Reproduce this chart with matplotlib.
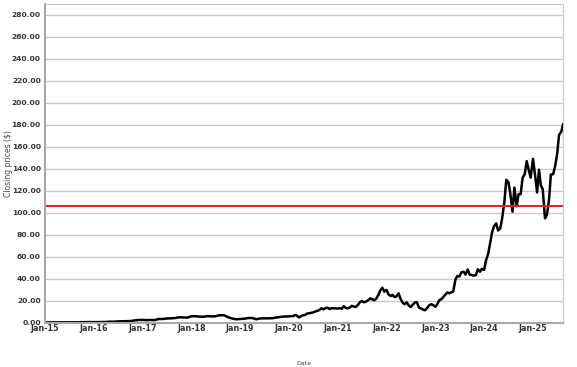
import numpy as np
import pandas as pd
import matplotlib
matplotlib.use('Agg')
import matplotlib.pyplot as plt
import matplotlib.dates as mdates

# monatliche Schlusskurse 2015-2019
monthly_close = [
    0.50, 0.54, 0.53, 0.55, 0.55, 0.50, 0.50, 0.55, 0.61, 0.70, 0.80, 0.82,
    0.73, 0.78, 0.89, 0.89, 1.17, 1.17, 1.43, 1.53, 1.71, 1.72, 2.30, 2.67,
    2.73, 2.53, 2.72, 2.60, 3.59, 3.61, 4.06, 4.21, 4.47, 5.17, 5.00, 4.84,
    6.14, 6.12, 5.79, 5.62, 6.31, 5.92, 6.12, 7.02, 7.03, 5.27, 4.09, 3.34,
    3.59, 3.85, 4.49, 4.52, 3.38, 4.11, 4.22, 4.19, 4.35, 5.03, 5.42, 5.88,
]
# halbmonatliche Schlusskurse 2020-2025
semi_close = [
    5.97, 6.20, 6.10, 7.20, 6.70, 5.00, 6.20, 7.00, 7.20, 8.50, 8.80, 9.20,
    9.60, 10.30, 11.00, 11.80, 13.30, 12.30, 13.50, 13.90, 12.60, 13.50, 13.30, 13.20,
    13.10, 13.40, 13.00, 15.20, 13.70, 13.30, 14.00, 15.50, 15.00, 14.50, 16.50, 18.80,
    20.00, 18.70, 19.50, 20.50, 22.40, 21.50, 20.60, 22.00, 25.50, 29.50, 32.00, 28.50,
    30.00, 26.00, 24.50, 25.50, 23.50, 24.00, 27.00, 22.00, 18.50, 17.00, 18.70, 16.00,
    14.50, 16.50, 18.50, 18.90, 14.00, 13.30, 12.20, 11.50, 13.50, 16.00, 17.00, 16.30,
    14.60, 17.00, 20.90, 21.50, 23.50, 25.50, 27.80, 27.00, 27.80, 28.50, 39.70, 42.60,
    42.30, 46.00, 46.50, 44.00, 48.50, 43.90, 43.50, 43.00, 43.50, 48.80, 46.50, 49.00,
    48.20, 56.50, 63.00, 72.50, 82.20, 87.80, 90.40, 84.00, 85.80, 94.80, 110.00, 130.00,
    128.00, 118.00, 101.00, 122.90, 106.00, 117.00, 117.00, 131.60, 135.40, 147.00, 138.60, 132.00,
    149.00, 136.00, 118.50, 139.20, 124.90, 121.70, 95.00, 98.00, 111.60, 134.80, 135.10, 141.90,
    153.30, 170.70, 173.70, 180.50,
]
reference_level = 106.0

dates = list(pd.date_range('2015-01-01', '2019-12-01', freq='MS')) + \
        list(pd.date_range('2020-01-01', periods=len(semi_close), freq='SMS'))
close = monthly_close + semi_close

fig = plt.figure(figsize=(5.77, 3.67), dpi=100)
ax = fig.add_axes([0.078, 0.120, 0.898, 0.870])

ax.plot(dates, close, color='black', linewidth=1.8)
ax.axhline(reference_level, color='#e02020', linewidth=1.4)

ax.set_ylim(0, 290)
ax.set_xlim(dates[0], dates[-1])
ax.set_yticks(np.arange(0, 281, 20))
ax.yaxis.set_major_formatter(matplotlib.ticker.FormatStrFormatter('%.2f'))
ax.xaxis.set_major_locator(mdates.YearLocator())
ax.xaxis.set_major_formatter(mdates.DateFormatter('Jan-%y'))

ax.grid(axis='y', color='#c8c8c8', linewidth=1.0)
ax.grid(axis='x', visible=False)
ax.set_axisbelow(True)
for s in ['top', 'right']:
    ax.spines[s].set_color('#c8c8c8')
    ax.spines[s].set_linewidth(0.8)
for s in ['left', 'bottom']:
    ax.spines[s].set_color('#a8a8a8')
    ax.spines[s].set_linewidth(1.5)

ax.tick_params(length=0, colors='#333333')
ax.tick_params(axis='x', pad=1, labelsize=5.8)
ax.tick_params(axis='y', pad=3, labelsize=5.4)
for lbl in ax.get_xticklabels() + ax.get_yticklabels():
    lbl.set_fontweight('bold')

ax.set_ylabel('Closing prices ($)', fontsize=5.5, color='#444444')
ax.yaxis.set_label_coords(-0.062, 0.5)
ax.set_xlabel('Date', fontsize=4.5, color='#444444', labelpad=20)

fig.savefig('out.png', dpi=100)
